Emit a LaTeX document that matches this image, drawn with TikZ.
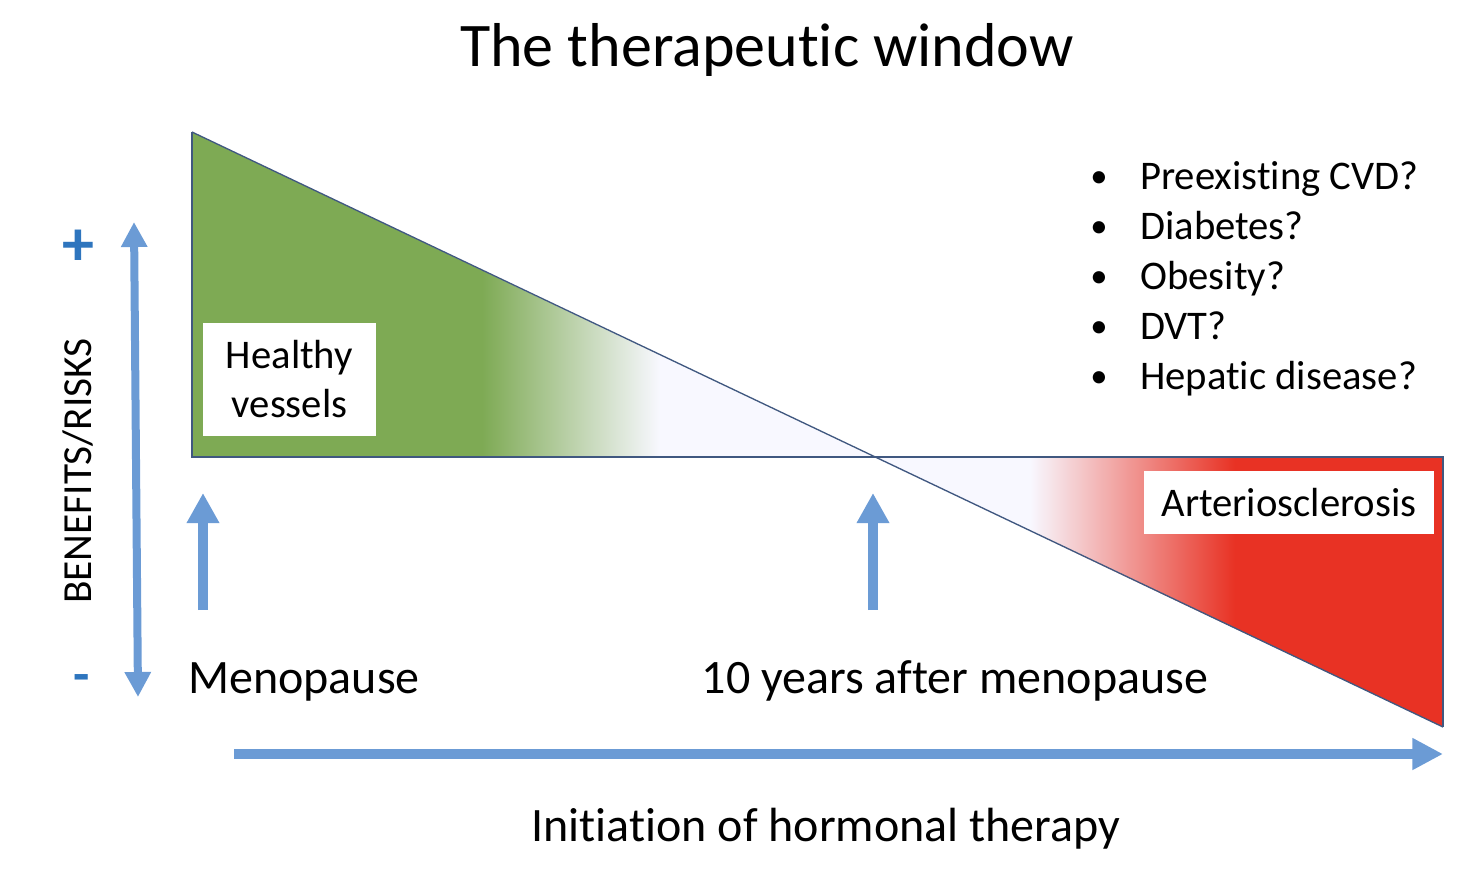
\documentclass[tikz,border=0pt]{standalone}
\usepackage{fontspec}
\setmainfont{Carlito}[RawFeature={-liga;-clig;-calt;-dlig}]
\usetikzlibrary{arrows.meta}

\definecolor{vesselgreen}{RGB}{126,170,84}
\definecolor{riskred}{RGB}{232,50,36}
\definecolor{paleblue}{RGB}{248,248,255}
\definecolor{arrowblue}{RGB}{107,155,213}
\definecolor{signblue}{RGB}{46,117,190}
\definecolor{edgeblue}{RGB}{64,88,128}

\begin{document}
\begin{tikzpicture}[x=0.75pt,y=0.75pt,yscale=-1,xscale=1,
  edge/.style={draw=edgeblue,line width=1pt},
  bigarrow/.style={arrowblue,line width=#1},
  label/.style={inner sep=0pt,font=\fontsize{36}{43}\selectfont},
  listtext/.style={inner sep=0pt,font=\fontsize{30.5}{37}\selectfont},
  whitebox/.style={fill=white,inner sep=0pt,align=center,font=\fontsize{30.5}{36.75}\selectfont}]
\useasboundingbox (0,0) rectangle (1478,876);

% corners of the window
\coordinate (top) at (192,132);
\coordinate (base) at (192,457);
\coordinate (cross) at (873,457);
\coordinate (baseend) at (1443,457);
\coordinate (low) at (1443,727);

% benefits side
\begin{scope}
\clip (top) -- (base) -- (cross) -- cycle;
\fill[vesselgreen] (192,132) rectangle (482,457);
\shade[left color=vesselgreen,right color=paleblue] (482,132) rectangle (660,457);
\fill[paleblue] (660,132) rectangle (873,457);
\end{scope}

% risks side
\begin{scope}
\clip (cross) -- (baseend) -- (low) -- cycle;
\fill[paleblue] (873,457) rectangle (1030,727);
\shade[left color=paleblue,right color=riskred] (1030,457) rectangle (1235,727);
\fill[riskred] (1235,457) rectangle (1443,727);
\end{scope}

\draw[edge] (top) -- (low);
\draw[edge] (top) -- (base) -- (baseend) -- (low);

% arrows
\coordinate (vtop) at (134,222);
\coordinate (vbot) at (138,697);
\draw[bigarrow=6pt,{Triangle[length=18.75pt,width=18.75pt]}-{Triangle[length=18.75pt,width=18.75pt]}] (vtop) -- (vbot);

\coordinate (startfoot) at (203,610);
\coordinate (starttip) at (203,493);
\draw[bigarrow=8pt,-{Triangle[length=22.5pt,width=23pt]}] (startfoot) -- (starttip);

\coordinate (latefoot) at (873,610);
\coordinate (latetip) at (873,493);
\draw[bigarrow=8pt,-{Triangle[length=22.5pt,width=23pt]}] (latefoot) -- (latetip);

\coordinate (timestart) at (234,754);
\coordinate (timeend) at (1443,754);
\draw[bigarrow=7.5pt,-{Triangle[length=23pt,width=22.5pt]}] (timestart) -- (timeend);

% texts
\node (title) [anchor=base,inner sep=0pt,font=\fontsize{46.5}{56}\selectfont] at (767,66) {The therapeutic window};
\node (plus) [anchor=base,inner sep=0pt,text=signblue,font=\fontsize{48}{56}\selectfont\bfseries] at (78,265) {+};
\node (minus) [anchor=base,inner sep=0pt,text=signblue,font=\fontsize{40}{48}\selectfont\bfseries] at (82,692) {-};
\node (axis) [anchor=base,rotate=90,inner sep=0pt,font=\fontsize{31}{37}\selectfont] at (91,471) {BENEFITS/RISKS};
\node (healthy) [whitebox,minimum width=130pt,minimum height=85pt] at (289.5,379.5) {Healthy\\vessels};
\node (sclerosis) [whitebox,minimum width=217.5pt,minimum height=47pt] at (1289,502.5) {Arteriosclerosis};
\node (meno) [label,anchor=base] at (304,693) {Menopause};
\node (tenyears) [label,anchor=base] at (955,693) {10 years after menopause};
\node (therapy) [label,anchor=base] at (826,841) {Initiation of hormonal therapy};

\foreach \t [count=\i] in {Preexisting CVD?,Diabetes?,Obesity?,DVT?,Hepatic disease?} {
  \node (dot\i) [listtext,anchor=base,font=\fontsize{26}{37}\selectfont] at (1099,{137+50*\i}) {\textbullet};
  \node (risk\i) [listtext,anchor=base west] at (1140,{139+50*\i}) {\t};
}

\end{tikzpicture}
\end{document}
